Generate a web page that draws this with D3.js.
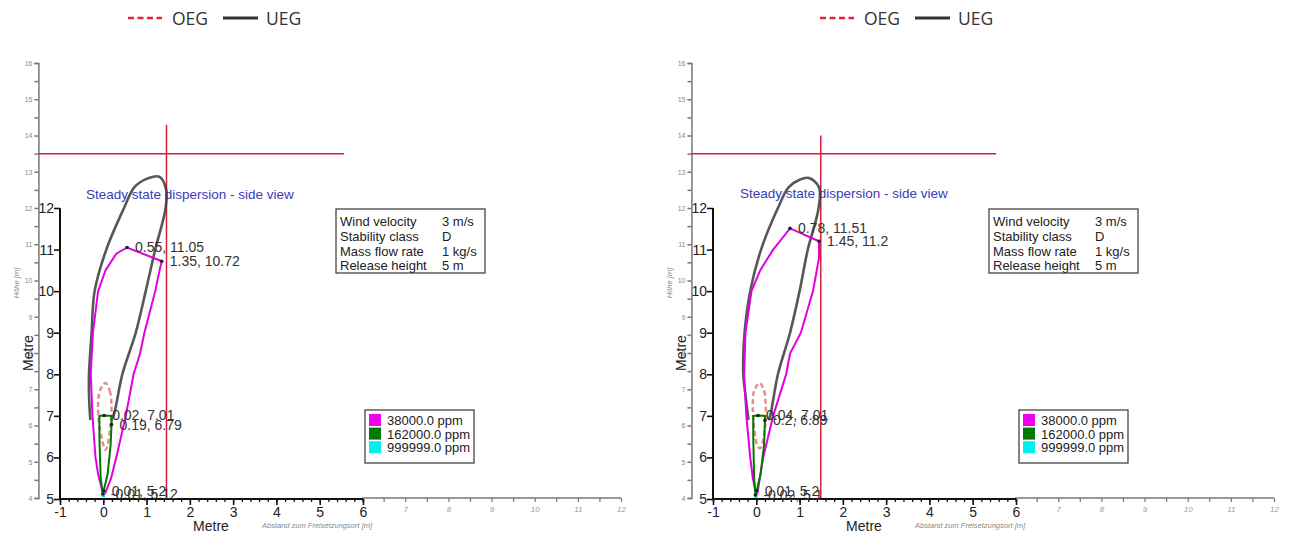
<!DOCTYPE html>
<html><head><meta charset="utf-8">
<script src="https://cdn.jsdelivr.net/npm/d3@7"></script>
<style>
body{margin:0;background:#fff;}
svg{display:block;font-family:"Liberation Sans",Arial,sans-serif;}
</style></head>
<body><svg id="c" width="1290" height="535"></svg>
<script>
// ---------- DATA (metres: x = distance, y = height) ----------
const blackXTicks = [-1,0,1,2,3,4,5,6];
const blackYTicks = [5,6,7,8,9,10,11,12];
const grayXTicks = [7,8,9,10,11,12];
const grayYTicks = [4,5,6,7,8,9,10,11,12,13,14,15,16];
const topLegend = ["OEG","UEG"];
const ppmLegend = ["38000.0 ppm","162000.0 ppm","999999.0 ppm"];
const ppmColors = ["#ee00ee","#007a00","#00f0f0"];
const infoLabels = ["Wind velocity","Stability class","Mass flow rate","Release height"];
const infoValues = ["3 m/s","D","1 kg/s","5 m"];
const title = "Steady state dispersion - side view";

// left panel
const uegLeft = [[-0.3,6.9],[-0.33,7.5],[-0.33,8],[-0.27,9],[-0.2,10],[0.07,11],[0.48,12],[0.72,12.5],[1.0,12.7],[1.3,12.75],[1.45,12.45],[1.44,12.0],[1.2,11],[0.98,10],[0.75,9],[0.44,8],[0.25,7.05],[0.18,6.88]];
const oegLeft = [[0.05,7.79],[0.15,7.6],[0.19,7.2],[0.16,6.7],[0.1,6.3],[0.05,6.18],[0.0,6.3],[-0.08,6.7],[-0.12,7.2],[-0.08,7.6]];
const c38Left = [[0.0,5.1],[-0.12,5.6],[-0.18,6.0],[-0.25,7.0],[-0.29,8.0],[-0.24,9.0],[-0.12,10.0],[0.05,10.5],[0.3,10.9],[0.55,11.05],[1.35,10.72],[1.3,10.5],[1.2,10.0],[0.95,9.0],[0.85,8.5],[0.7,8.0],[0.52,7.0],[0.3,6.0],[0.18,5.5],[0.05,5.15]];
const c162Left = [[-0.01,5.12],[-0.06,5.5],[-0.09,6.5],[-0.09,7.0],[0.02,7.01],[0.19,7.0],[0.19,6.79],[0.17,6.3],[0.1,5.6],[0.01,5.2]];
const c999Left = [[-0.02,5.06],[0.02,5.06],[0.02,5.14],[-0.02,5.14]];
const ptsLeft = [[0.55,11.05],[1.35,10.72],[0.02,7.01],[0.19,6.79],[0.01,5.2],[-0.01,5.12]];
const crossLeft = [1.46, 13.5, 14.3, 5.58]; // x, y, vertical top, horizontal end

// right panel
const uegRight = [[-0.18,6.9],[-0.25,7.5],[-0.3,8],[-0.27,9],[-0.14,10],[0.11,11],[0.5,12],[0.75,12.5],[1.0,12.68],[1.22,12.72],[1.45,12.5],[1.44,12.0],[1.19,11],[1.0,10],[0.78,9],[0.5,8],[0.32,7.0],[0.28,6.9]];
const oegRight = [[0.08,7.79],[0.18,7.6],[0.22,7.2],[0.2,6.7],[0.13,6.3],[0.08,6.22],[0.02,6.3],[-0.05,6.7],[-0.08,7.2],[-0.05,7.6]];
const c38Right = [[0.0,5.1],[-0.08,5.5],[-0.14,6.0],[-0.23,7.0],[-0.28,8.0],[-0.25,9.0],[-0.11,10.0],[0.09,10.5],[0.39,11.0],[0.78,11.51],[1.45,11.2],[1.45,10.8],[1.31,10.0],[1.03,9.0],[0.78,8.5],[0.69,8.0],[0.39,7.0],[0.16,6.0],[0.08,5.5],[0.03,5.15]];
const c162Right = [[-0.02,5.1],[-0.05,5.5],[-0.07,6.5],[-0.07,7.0],[0.04,7.01],[0.2,7.0],[0.2,6.89],[0.18,6.3],[0.1,5.6],[0.01,5.2]];
const c999Right = [[-0.03,5.05],[0.01,5.05],[0.01,5.13],[-0.03,5.13]];
const ptsRight = [[0.78,11.51],[1.45,11.2],[0.04,7.01],[0.2,6.89],[0.01,5.2],[-0.02,5.1]];
const crossRight = [1.49, 13.5, 14.0, 5.56];

// ---------- DRAW ----------
const svg = d3.select("#c");
const fmt = v => String(v);

function panel(off, legOff, ueg, oeg, c38, c162, c999, pts, cross, titleX, titleY){
  const g = svg.append("g");
  const xB = d3.scaleLinear().domain([-1,6]).range([60+off,363+off]);
  const yB = d3.scaleLinear().domain([5,12]).range([499,208]);
  const xG = d3.scaleLinear().domain([-1,12]).range([60+off,621+off]);
  const yG = d3.scaleLinear().domain([4,16]).range([498,63]);

  // top legend
  const lg = svg.append("g").attr("transform",`translate(${legOff},0)`);
  lg.append("line").attr("x1",128).attr("x2",162).attr("y1",18).attr("y2",18)
    .attr("stroke","#e8203a").attr("stroke-width",2.5).attr("stroke-dasharray","6,3.5");
  lg.append("text").attr("x",172).attr("y",24.5).text(topLegend[0])
    .attr("font-family","'Open Sans',sans-serif").attr("font-size",17.5).attr("fill","#333");
  lg.append("line").attr("x1",223).attr("x2",258).attr("y1",18).attr("y2",18)
    .attr("stroke","#333").attr("stroke-width",3);
  lg.append("text").attr("x",266).attr("y",24.5).text(topLegend[1])
    .attr("font-family","'Open Sans',sans-serif").attr("font-size",17.5).attr("fill","#333");

  // gray background axes
  const gx = xG(-1.5);
  const gyAxis = d3.axisLeft(yG).tickValues(d3.range(4,16.01,0.5)).tickSize(4)
      .tickFormat(d => grayYTicks.includes(d) ? String(d) : "");
  const gya = g.append("g").attr("transform",`translate(${gx},0)`).call(gyAxis);
  gya.select(".domain").attr("stroke","#777").attr("stroke-width",1.5);
  gya.selectAll(".tick line").attr("stroke","#777").attr("stroke-width",1.5);
  gya.selectAll(".tick text").attr("fill","#888").attr("font-size",7).attr("x",-6);

  const gxAxis = d3.axisBottom(xG).tickValues(d3.range(6,12.01,0.5)).tickSize(4)
      .tickFormat(d => grayXTicks.includes(d) ? String(d) : "");
  const gxa = g.append("g").attr("transform",`translate(0,498)`).call(gxAxis);
  gxa.select(".domain").attr("stroke","#777").attr("stroke-width",1.5).attr("d",`M${xG(6)},0H${xG(12)}`);
  gxa.selectAll(".tick line").attr("stroke","#777").attr("stroke-width",1.2);
  gxa.selectAll(".tick text").attr("fill","#999").attr("font-size",8).attr("font-style","italic").attr("y",8);

  g.append("text").attr("x",262+off).attr("y",528).text("Abstand zum Freisetzungsort [m]")
    .attr("font-size",7.5).attr("font-style","italic").attr("fill","#888");
  g.append("text").attr("transform",`translate(${19+off},283) rotate(-90)`).attr("text-anchor","middle")
    .text("Höhe [m]").attr("font-size",7.5).attr("font-style","italic").attr("fill","#888");

  // black axes
  const bxa = g.append("g").attr("transform","translate(0,499)")
    .call(d3.axisBottom(xB).tickValues(d3.range(-1,6.01,0.2)).tickSize(3).tickFormat(""));
  bxa.select(".domain").attr("stroke","#111").attr("stroke-width",2.2).attr("d",`M${xB(-1)},0H${xB(6)}`);
  bxa.selectAll(".tick line").attr("stroke","#111").attr("stroke-width",1.3);
  const bxb = g.append("g").attr("transform","translate(0,499)")
    .call(d3.axisBottom(xB).tickValues(blackXTicks).tickSize(6).tickFormat(d => String(d)));
  bxb.select(".domain").remove();
  bxb.selectAll(".tick line").attr("stroke","#111").attr("stroke-width",1.6);
  bxb.selectAll(".tick text").attr("fill","#222").attr("font-size",14).attr("y",8);

  const bya = g.append("g").attr("transform",`translate(${xB(-1)},0)`)
    .call(d3.axisLeft(yB).tickValues(blackYTicks).tickSize(6).tickFormat(d => String(d)));
  bya.select(".domain").attr("stroke","#111").attr("stroke-width",2).attr("d",`M0,${yB(12)}V${yB(5)}`);
  bya.selectAll(".tick line").attr("stroke","#111").attr("stroke-width",1.6);
  bya.selectAll(".tick text").attr("fill","#222").attr("font-size",14).attr("x",-6);

  g.append("text").attr("x",211+off).attr("y",531).attr("text-anchor","middle")
    .text("Metre").attr("font-size",14).attr("fill","#222");
  g.append("text").attr("transform",`translate(${33+off},353) rotate(-90)`).attr("text-anchor","middle")
    .text("Metre").attr("font-size",14).attr("fill","#222");

  // crosshair
  g.append("line").attr("x1",xB(cross[0])).attr("x2",xB(cross[0]))
    .attr("y1",yG(cross[2])).attr("y2",yG(4)).attr("stroke","#d81e3c").attr("stroke-width",1.5);
  g.append("line").attr("x1",gx).attr("x2",xG(cross[3]))
    .attr("y1",yG(cross[1])).attr("y2",yG(cross[1])).attr("stroke","#d81e3c").attr("stroke-width",1.5);

  // title
  g.append("text").attr("x",titleX).attr("y",titleY).text(title)
    .attr("font-size",13.5).attr("fill","#3a3ab8");

  // contours
  const line = d3.line().x(d=>xB(d[0])).y(d=>yB(d[1]));
  g.append("path").attr("d",line.curve(d3.curveCatmullRom)(ueg)).attr("fill","none")
    .attr("stroke","#3a3a3a").attr("stroke-width",2.6).attr("stroke-opacity",0.85);
  g.append("path").attr("d",line.curve(d3.curveLinearClosed)(c38)).attr("fill","none")
    .attr("stroke","#e000e0").attr("stroke-width",2);
  g.append("path").attr("d",line.curve(d3.curveCatmullRomClosed)(oeg)).attr("fill","none")
    .attr("stroke","#e07070").attr("stroke-width",2.5).attr("stroke-dasharray","5,3").attr("stroke-opacity",0.8);
  g.append("path").attr("d",line.curve(d3.curveLinearClosed)(c162)).attr("fill","none")
    .attr("stroke","#007a00").attr("stroke-width",2);
  g.append("path").attr("d",line.curve(d3.curveLinearClosed)(c999)).attr("fill","none")
    .attr("stroke","#00d8d8").attr("stroke-width",1.5);

  // labelled points
  g.selectAll(".pt").data(pts).join("circle").attr("cx",d=>xB(d[0])).attr("cy",d=>yB(d[1]))
    .attr("r",1.8).attr("fill","#222");
  g.selectAll(".pl").data(pts).join("text").attr("x",d=>xB(d[0])+8).attr("y",d=>yB(d[1])+5)
    .text(d=>fmt(d[0])+", "+fmt(d[1])).attr("font-size",14).attr("fill","#333");

  // info box
  const ib = g.append("g").attr("transform",`translate(${off},0)`);
  ib.append("rect").attr("x",336).attr("y",209).attr("width",149).attr("height",64)
    .attr("fill","#fff").attr("stroke","#444").attr("stroke-width",1.3);
  infoLabels.forEach((t,i)=>{
    ib.append("text").attr("x",340).attr("y",226+i*14.8).text(t).attr("font-size",13).attr("fill","#222");
    ib.append("text").attr("x",442).attr("y",226+i*14.8).text(infoValues[i]).attr("font-size",13).attr("fill","#222");
  });

  // ppm legend
  const pb = g.append("g").attr("transform",`translate(${off+ (off?1:0)},0)`);
  pb.append("rect").attr("x",365).attr("y",410).attr("width",109).attr("height",53)
    .attr("fill","#fff").attr("stroke","#444").attr("stroke-width",1.3);
  ppmLegend.forEach((t,i)=>{
    pb.append("rect").attr("x",369).attr("y",414+i*13.6).attr("width",12).attr("height",12).attr("fill",ppmColors[i]);
    pb.append("text").attr("x",387).attr("y",425+i*13.6).text(t).attr("font-size",13).attr("fill","#222");
  });
}

panel(0, 0, uegLeft, oegLeft, c38Left, c162Left, c999Left, ptsLeft, crossLeft, 86, 199);
panel(653, 692, uegRight, oegRight, c38Right, c162Right, c999Right, ptsRight, crossRight, 740, 198);
</script></body></html>
